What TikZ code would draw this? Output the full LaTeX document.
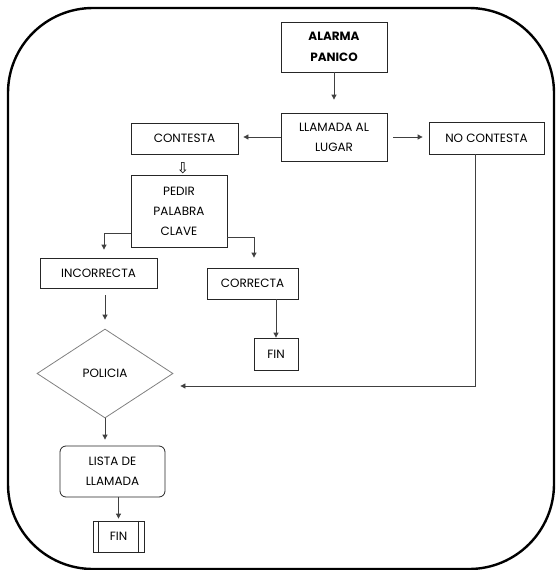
\documentclass[tikz,border=0pt]{standalone}
\usepackage{fontspec}
\setmainfont{Poppins}
\newfontfamily\symfont{DejaVu Sans}
\usetikzlibrary{arrows.meta,shapes.geometric}
\begin{document}
\begin{tikzpicture}[x=1pt,y=-1pt,
  caja/.style={draw=black!85, line width=0.8pt, inner sep=0pt, align=center, font=\fontsize{12}{20}\selectfont},
  flecha/.style={draw=black!75, line width=0.8pt, -{Triangle[length=5pt,width=5pt]}}]
\useasboundingbox (0,0) rectangle (555,570);
\draw[line width=2.4pt, rounded corners=85pt] (8,8) rectangle (554,569);
\node[caja, minimum width=106pt, minimum height=50pt, font=\fontsize{12}{21}\selectfont\bfseries] (1) at (334,47) {ALARMA\\PANICO};
\node[caja, minimum width=106pt, minimum height=48pt] (2) at (334,137) {LLAMADA AL\\LUGAR};
\node[caja, minimum width=107pt, minimum height=31pt] (3) at (184.5,138.5) {CONTESTA};
\node[caja, minimum width=115pt, minimum height=32pt] (4) at (486.5,138) {NO CONTESTA};
\node[inner sep=0pt, font=\symfont\fontsize{15}{15}\selectfont] (5) at (183,168.5) {⇩};
\node[caja, minimum width=96pt, minimum height=72pt] (6) at (179,211) {PEDIR\\PALABRA\\CLAVE};
\node[caja, minimum width=117pt, minimum height=30pt] (7) at (98.5,273) {INCORRECTA};
\node[caja, minimum width=91pt, minimum height=31pt] (8) at (252.5,283.5) {CORRECTA};
\node[caja, minimum width=44pt, minimum height=32pt] (9) at (276,354) {FIN};
\node[caja, draw=black!50, diamond, aspect=1.53, minimum width=136pt, minimum height=89pt] (10) at (105,373.5) {POLICIA};
\node[caja, rounded corners=6pt, minimum width=105pt, minimum height=51pt] (11) at (112.5,471.5) {LISTA DE\\LLAMADA};
\node[caja, minimum width=51pt, minimum height=31pt] (12) at (118.5,536.5) {FIN};
\draw[black!85, line width=0.8pt] ([xshift=6pt]12.north west) -- ([xshift=6pt]12.south west);
\draw[black!85, line width=0.8pt] ([xshift=-6pt]12.north east) -- ([xshift=-6pt]12.south east);
\path[flecha, shorten >=13pt] (1) -- (2);
\path[flecha, shorten >=5pt] (2.west) -- (2.west -| 3.east);
\path[flecha, shorten <=6pt, shorten >=6pt] (2.east) -- (2.east -| 4.west);
\path[flecha, shorten >=8pt] ([yshift=14pt]6.south west) -| ([xshift=5.5pt]7.north);
\path[flecha, shorten >=10pt] ([yshift=10pt]6.south east) -| ([xshift=1.5pt]8.north);
\path[flecha, shorten <=7pt, shorten >=9pt] (7.south -| 10.north) -- (10.north);
\path[flecha] (8.south -| 9.north) -- (9.north);
\path[flecha, shorten >=7pt] ([xshift=-11.5pt]4.south) |- ([yshift=-12.5pt]10.east);
\path[flecha, shorten >=6pt] (10.south) -- (10.south |- 11.north);
\path[flecha, shorten >=2pt] (12.north |- 11.south) -- (12.north);
\end{tikzpicture}
\end{document}
